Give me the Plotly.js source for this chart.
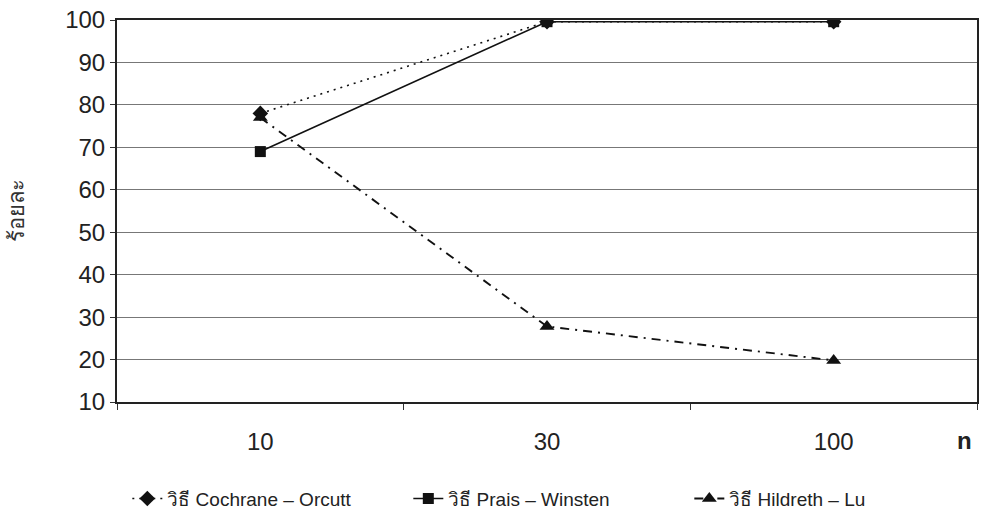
<!DOCTYPE html>
<html>
<head>
<meta charset="utf-8">
<script src="https://cdn.plot.ly/plotly-3.0.1.min.js"></script>
<style>
  html, body { margin: 0; padding: 0; background: #fff; }
  #chart { width: 982px; height: 521px; }
</style>
</head>
<body>
<div id="chart"></div>
<script>
// Sample size categories
const sampleSizes = ["10", "30", "100"];

// Percentage for each estimation method
const cochraneOrcutt = [78.0, 99.6, 99.6];
const praisWinsten   = [69.0, 99.6, 99.6];
const hildrethLu     = [77.0, 27.8, 19.8];

const seriesNames = [
  "วิธี Cochrane – Orcutt",
  "วิธี Prais – Winsten",
  "วิธี Hildreth – Lu"
];

const yTitle = "ร้อยละ";
const xTitle = "n";

const fontFamily = "Liberation Sans, Arial, Noto Sans, DejaVu Sans, sans-serif";

const traces = [
  {
    x: sampleSizes, y: cochraneOrcutt, name: seriesNames[0],
    type: "scatter", mode: "lines+markers",
    line: { color: "#111", width: 1.6, dash: "2px,5px" },
    marker: { symbol: "diamond", size: 12, color: "#111" }
  },
  {
    x: sampleSizes, y: praisWinsten, name: seriesNames[1],
    type: "scatter", mode: "lines+markers",
    line: { color: "#111", width: 1.6 },
    marker: { symbol: "square", size: 11, color: "#111" }
  },
  {
    x: sampleSizes, y: hildrethLu, name: seriesNames[2],
    type: "scatter", mode: "lines+markers",
    line: { color: "#111", width: 1.9, dash: "9px,6px,2px,6px" },
    marker: { symbol: "triangle-up", size: 13, color: "#111" }
  }
];

const layout = {
  width: 982, height: 521,
  paper_bgcolor: "#fff", plot_bgcolor: "#fff",
  margin: { l: 117, r: 5, t: 20, b: 118 },
  font: { family: fontFamily, color: "#222", size: 24 },
  showlegend: true,
  legend: {
    orientation: "h", x: 0.012, xanchor: "left", y: -0.2, yanchor: "top",
    font: { size: 19, color: "#222" }, entrywidth: 236, tracegroupgap: 0
  },
  xaxis: {
    type: "category",
    range: [-0.5, 2.5],
    tickson: "boundaries",
    ticks: "outside", ticklen: 6, tickcolor: "#333",
    showline: true, linecolor: "#222", linewidth: 2, mirror: true,
    showgrid: false, zeroline: false,
    ticklabelstandoff: 17,
    tickfont: { size: 24, color: "#222" }
  },
  yaxis: {
    range: [10, 100], dtick: 10, tick0: 0,
    ticks: "outside", ticklen: 5, tickcolor: "#333",
    showline: true, linecolor: "#222", linewidth: 2, mirror: true,
    showgrid: true, gridcolor: "#777", gridwidth: 1,
    zeroline: false,
    tickfont: { size: 24, color: "#222" },
    title: { text: yTitle, font: { size: 22, color: "#333" }, standoff: 34 }
  },
  annotations: [
    {
      text: "<b>" + xTitle + "</b>", xref: "paper", yref: "paper",
      x: 0.997, y: -0.1, xanchor: "right", yanchor: "middle",
      showarrow: false, font: { size: 24, color: "#222" }
    }
  ]
};

Plotly.newPlot("chart", traces, layout, { displayModeBar: false, staticPlot: true });
</script>
</body>
</html>
